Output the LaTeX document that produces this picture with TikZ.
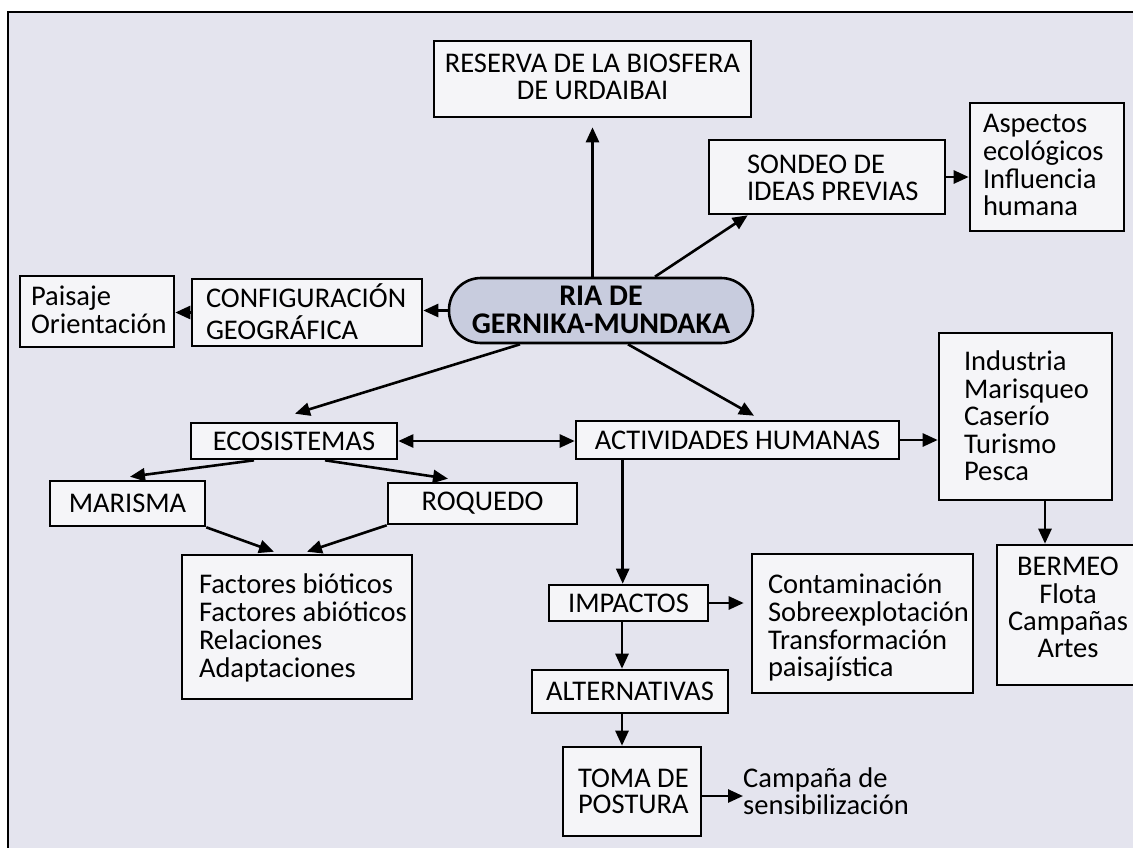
\documentclass[tikz,border=0pt]{standalone}
\usepackage{fontspec}
\setmainfont{Carlito}
\usetikzlibrary{arrows.meta,calc}
\definecolor{bgc}{RGB}{228,228,238}
\definecolor{boxc}{RGB}{245,245,248}
\definecolor{riac}{RGB}{200,204,222}
\newcommand\ltab[2]{\makebox[#1][l]{\begin{tabular}{@{}l@{}}#2\end{tabular}}}
\newcommand\ctab[1]{\begin{tabular}{@{}c@{}}#1\end{tabular}}
\newcommand\sh[2]{\raisebox{#1}[\height][\depth]{#2}}
\begin{document}
\begin{tikzpicture}[x=1pt,y=-1pt,
  box/.style={draw, line width=2.6pt, fill=boxc, inner sep=0pt, font=\fontsize{28.5}{26.7}\selectfont, align=center},
  arr/.style={line width=2.6pt, -{Triangle[length=15pt,width=13pt]}},
  darr/.style={line width=2.6pt, {Triangle[length=15pt,width=13pt]}-{Triangle[length=15pt,width=13pt]}}]
\clip (0,0) rectangle (1133,847);
\fill[white] (0,0) rectangle (1133,847);
\draw[line width=2.6pt, fill=bgc] (8,12) rectangle (1150,870);

\node[box, minimum width=317pt, minimum height=76pt] (reserva) at (592.5,79) {\sh{-2pt}{\ctab{RESERVA DE LA BIOSFERA\\DE URDAIBAI}}};
\node[box, minimum width=236pt, minimum height=74pt] (sondeo) at (827,177) {\sh{-5pt}{\ltab{160pt}{SONDEO DE\\IDEAS PREVIAS}}};
\node[box, minimum width=154pt, minimum height=128pt] (aspectos) at (1047,167) {\sh{-2pt}{\ltab{128pt}{Aspectos\\ecológicos\\Influencia\\humana}}};
\node[box, minimum width=154pt, minimum height=71pt] (paisaje) at (97,311.5) {\sh{-2.5pt}{\ltab{132pt}{Paisaje\\Orientación}}};
\node[box, minimum width=230pt, minimum height=67pt] (config) at (307,312.5) {\sh{-3pt}{\ltab{202pt}{CONFIGURACIÓN\\GEOGRÁFICA}}};
\node[box, fill=riac, rounded corners=32pt, minimum width=304pt, minimum height=65pt, font=\fontsize{30}{27}\selectfont\bfseries] (ria) at (601,310.5) {\sh{-3pt}{\ctab{RIA DE\\GERNIKA-MUNDAKA}}};
\node[box, minimum width=206pt, minimum height=36pt] (ecos) at (294,441) {ECOSISTEMAS};
\node[box, minimum width=323pt, minimum height=38pt] (act) at (737.5,440) {ACTIVIDADES HUMANAS};
\node[box, minimum width=173pt, minimum height=167pt] (industria) at (1025.5,416.5) {\sh{-3pt}{\ltab{123pt}{Industria\\Marisqueo\\Caserío\\Turismo\\Pesca}}};
\node[box, minimum width=142pt, minimum height=140pt] (bermeo) at (1068,615) {\sh{4pt}{\ctab{BERMEO\\Flota\\Campañas\\Artes}}};
\node[box, minimum width=155pt, minimum height=45pt] (marisma) at (127.5,503.5) {MARISMA};
\node[box, minimum width=189pt, minimum height=41pt] (roquedo) at (482.5,503.5) {ROQUEDO};
\node[box, minimum width=230pt, minimum height=144pt] (factores) at (297,627) {\sh{-2.5pt}{\ltab{196pt}{Factores bióticos\\Factores abióticos\\Relaciones\\Adaptaciones}}};
\node[box, minimum width=159pt, minimum height=36pt] (impactos) at (628.5,603) {IMPACTOS};
\node[box, minimum width=221pt, minimum height=139pt] (contam) at (862.5,623.5) {\sh{-6pt}{\ltab{189pt}{Contaminación\\Sobreexplotación\\Transformación\\paisajística}}};
\node[box, minimum width=196pt, minimum height=43pt] (alt) at (630,691.5) {ALTERNATIVAS};
\node[box, minimum width=138pt, minimum height=89pt] (toma) at (632,791.5) {\sh{-3.5pt}{\ltab{108pt}{TOMA DE\\POSTURA}}};
\node[anchor=west, inner sep=0pt, font=\fontsize{28.5}{26.7}\selectfont] (campana) at (743,791.5) {\sh{-3.5pt}{\ltab{150pt}{Campaña de\\sensibilización}}};

% connectors
\draw[arr, shorten >=9pt] (ria.north -| reserva.south) -- (reserva.south);
\draw[arr] ($(ria.north)+(54,0)$) -- ($(sondeo.south west)+(40,0)$);
\draw[arr] (sondeo.east) -- (sondeo.east -| aspectos.west);
\draw[arr] (ria.west) -- (ria.west -| config.east);
\draw[arr] (config.west) -- (config.west -| paisaje.east);
\draw[arr] ($(ria.south)+(-81,0)$) -- ($(ecos.north)+(1,-8)$);
\draw[arr] ($(ria.south)+(27,0)$) -- ($(act.north)+(16.5,-4)$);
\draw[darr] (ecos.east) -- (ecos.east -| act.west);
\draw[arr] (act.east) -- (act.east -| industria.west);
\draw[arr] ($(ecos.south)+(-40,0)$) -- ($(marisma.north)+(2.5,-3)$);
\draw[arr] ($(ecos.south)+(31,0)$) -- ($(roquedo.north)+(-34.5,-3)$);
\draw[arr] (marisma.south east) -- ($(factores.north)+(-23,-2)$);
\draw[arr] (roquedo.south west) -- ($(factores.north)+(10,-2)$);
\draw[arr] ($(industria.south)+(19.5,0)$) coordinate (indb) -- (indb |- bermeo.north);
\draw[arr] ($(act.south west)+(48,0)$) coordinate (actb) -- (actb |- impactos.north);
\draw[arr, shorten >=7pt] (impactos.east) -- (impactos.east -| contam.west);
\draw[arr] ($(impactos.south)+(-6.5,0)$) coordinate (impb) -- (impb |- alt.north);
\draw[arr] ($(alt.south)+(-8,0)$) coordinate (altb) -- (altb |- toma.north);
\draw[arr] ($(toma.east)+(0,4.5)$) coordinate (tomb) -- (tomb -| campana.west);
\end{tikzpicture}
\end{document}
